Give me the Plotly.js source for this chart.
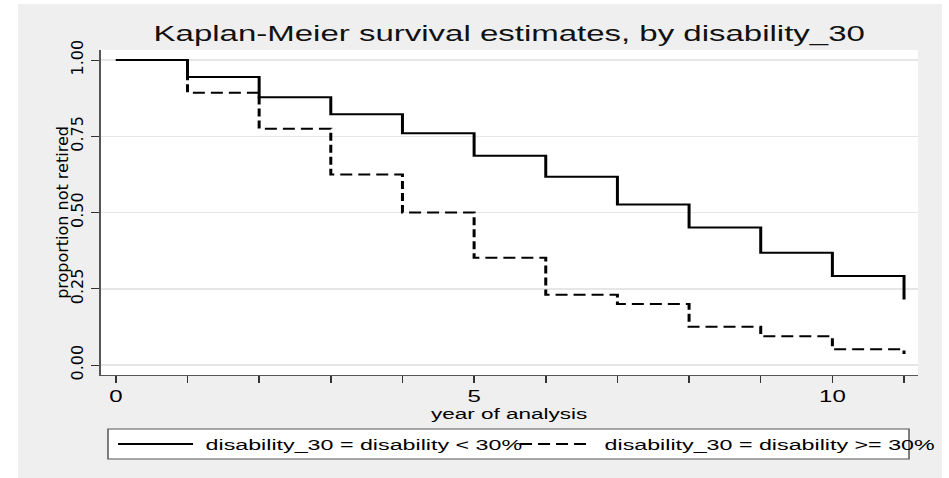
<!DOCTYPE html>
<html>
<head>
<meta charset="utf-8">
<script src="https://cdn.plot.ly/plotly-3.0.1.min.js"></script>
<style>
  html, body { margin: 0; padding: 0; background: #ffffff; width: 949px; height: 478px; overflow: hidden; }
  /* the figure is laid out narrow and widened 1.5x horizontally */
  #km { position: absolute; left: 18px; top: 4px; width: 616px; height: 474px;
        transform: scaleX(1.5); transform-origin: 0 0; }
</style>
</head>
<body>
<div id="km"></div>
<script>
// Kaplan-Meier step estimates by year
const years = [0, 1, 2, 3, 4, 5, 6, 7, 8, 9, 10, 11];
const survLow  = [1.000, 0.944, 0.878, 0.822, 0.760, 0.686, 0.617, 0.526, 0.451, 0.368, 0.292, 0.215];
const survHigh = [1.000, 0.893, 0.775, 0.625, 0.500, 0.352, 0.230, 0.200, 0.125, 0.094, 0.052, 0.036];
const groupLow  = 'disability_30 = disability < 30%';
const groupHigh = 'disability_30 = disability >= 30%';

const xTickVals = [0, 1, 2, 3, 4, 5, 6, 7, 8, 9, 10, 11];
const xTickText = ['0', '', '', '', '', '5', '', '', '', '', '10', ''];
const yTickVals = [0, 0.25, 0.5, 0.75, 1];
const yTickText = ['0.00', '0.25', '0.50', '0.75', '1.00'];

const chartTitle = 'Kaplan-Meier survival estimates, by disability_30';
const xTitle = 'year of analysis';
const yTitle = 'proportion not retired';

// ---- styling ----
const SANS = 'Liberation Sans, Arial, Helvetica, sans-serif';
const WIDE = 'DejaVu Sans, Verdana, sans-serif';
const solidLine = { color: '#000000', width: 2, dash: 'solid' };
const dashLine  = { color: '#000000', width: 2, dash: '8px,4px' };

const FIG_W = 616, FIG_H = 474;
const M = { l: 55, r: 16, t: 46, b: 103 };
const plotW = FIG_W - M.l - M.r, plotH = FIG_H - M.t - M.b;
const px = x => (x - M.l) / plotW;            // figure pixel -> paper x
const py = y => (FIG_H - M.b - y) / plotH;    // figure pixel -> paper y

const traces = [
  { x: years, y: survLow, name: groupLow, type: 'scatter', mode: 'lines',
    line: Object.assign({ shape: 'hv' }, solidLine) },
  { x: years, y: survHigh, name: groupHigh, type: 'scatter', mode: 'lines',
    line: Object.assign({ shape: 'hv' }, dashLine) }
];

// legend drawn as a framed key below the x axis
const keyY = 440;
const shapes = [
  { type: 'rect', xref: 'paper', yref: 'paper', x0: px(60), x1: px(594), y0: py(455), y1: py(425),
    fillcolor: '#ffffff', line: { color: '#555555', width: 1 } },
  { type: 'line', xref: 'paper', yref: 'paper', x0: px(66.7), x1: px(116.7), y0: py(keyY), y1: py(keyY),
    line: solidLine },
  { type: 'line', xref: 'paper', yref: 'paper', x0: px(334.7), x1: px(382.7), y0: py(keyY), y1: py(keyY),
    line: dashLine }
];
const keyFont = { family: SANS, size: 15.5, color: '#000000' };
const annotations = [
  { text: groupLow, xref: 'paper', yref: 'paper', x: px(123.5), y: py(keyY),
    xanchor: 'left', yanchor: 'middle', showarrow: false, font: keyFont, borderpad: 0 },
  { text: groupHigh, xref: 'paper', yref: 'paper', x: px(390), y: py(keyY),
    xanchor: 'left', yanchor: 'middle', showarrow: false, font: keyFont, borderpad: 0 }
];

const layout = {
  width: FIG_W, height: FIG_H,
  margin: M,
  paper_bgcolor: '#efefef',
  plot_bgcolor: '#ffffff',
  showlegend: false,
  title: { text: chartTitle, font: { family: SANS, size: 22, color: '#111111' },
           x: 0.5, xref: 'paper', xanchor: 'center', y: 0.9388, yref: 'container', yanchor: 'middle' },
  xaxis: {
    range: [-0.214, 11.195],
    tickvals: xTickVals, ticktext: xTickText,
    ticks: 'outside', ticklen: 7, tickwidth: 1, tickcolor: '#333333',
    tickfont: { family: SANS, size: 16, color: '#000000' },
    showline: true, linecolor: '#555555', linewidth: 1,
    showgrid: false, zeroline: false,
    title: { text: xTitle, font: { family: SANS, size: 15, color: '#000000' }, standoff: 2 }
  },
  yaxis: {
    range: [-0.0328, 1.0328],
    tickvals: yTickVals, ticktext: yTickText, tickangle: -90,
    ticks: 'outside', ticklen: 5.5, tickwidth: 1, tickcolor: '#333333',
    tickfont: { family: WIDE, size: 16, color: '#000000' },
    showline: true, linecolor: '#555555', linewidth: 1,
    showgrid: true, gridcolor: '#e6e6e6', gridwidth: 1.5, zeroline: false,
    title: { text: yTitle, font: { family: WIDE, size: 16, color: '#000000' }, standoff: 2 }
  },
  shapes: shapes,
  annotations: annotations
};

// vertical-reading labels keep their natural width inside the widened figure,
// centred on a chosen column
const Y_LABEL_CX = 39.7, Y_TITLE_CX = 29.7;
function narrow(el, targetCx) {
  const g = document.createElementNS('http://www.w3.org/2000/svg', 'g');
  el.parentNode.insertBefore(g, el);
  g.appendChild(el);
  const bb = g.getBBox();
  const cx = bb.x + bb.width / 2;
  g.setAttribute('transform', 'translate(' + targetCx + ',0) scale(' + (1 / 1.5) + ',1) translate(' + (-cx) + ',0)');
}

Plotly.newPlot('km', traces, layout, { staticPlot: true, displayModeBar: false }).then(gd => {
  gd.querySelectorAll('.ytick text').forEach(t => narrow(t, Y_LABEL_CX));
  const yt = gd.querySelector('.ytitle');
  if (yt) narrow(yt, Y_TITLE_CX);
});
</script>
</body>
</html>
